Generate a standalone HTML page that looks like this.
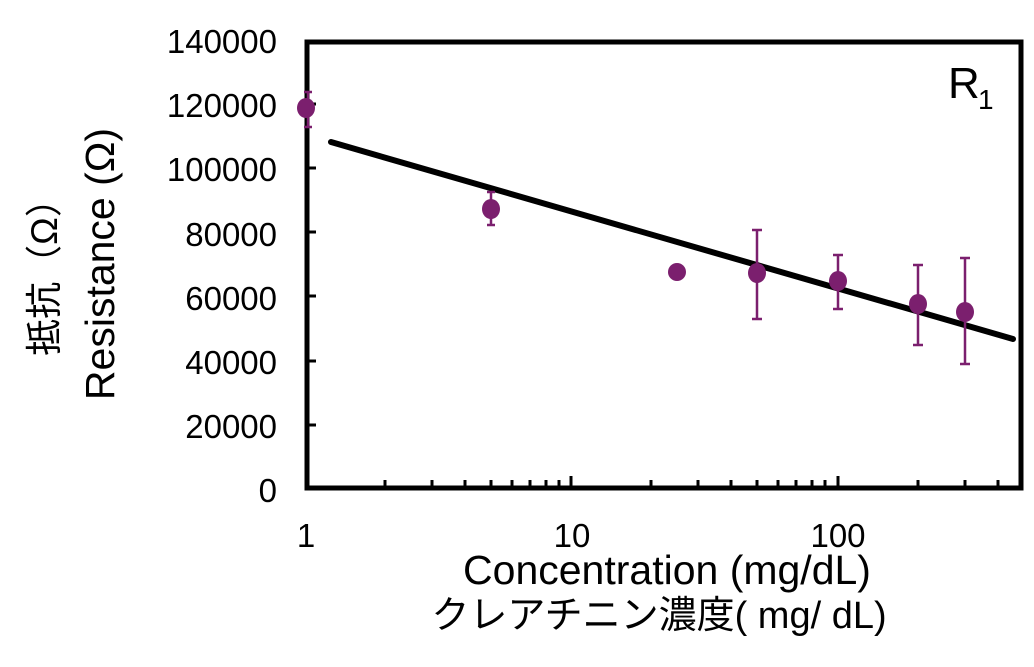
<!DOCTYPE html>
<html><head><meta charset="utf-8"><style>
body{margin:0;background:#fff}
svg text{font-family:"Liberation Sans","Noto Sans CJK JP",sans-serif;fill:#000}
</style></head><body>
<svg width="1034" height="662" viewBox="0 0 1034 662" xmlns="http://www.w3.org/2000/svg">
<rect width="1034" height="662" fill="#fff"/>
<g font-size="33" text-anchor="end">
<text x="277" y="53">140000</text>
<text x="277" y="117">120000</text>
<text x="277" y="181">100000</text>
<text x="277" y="246">80000</text>
<text x="277" y="310">60000</text>
<text x="277" y="374">40000</text>
<text x="277" y="438">20000</text>
<text x="277" y="502">0</text>
</g>
<g font-size="33" text-anchor="middle">
<text x="306" y="547">1</text>
<text x="572" y="547">10</text>
<text x="838" y="547">100</text>
</g>
<g stroke="#000" stroke-width="3">
<line x1="307" y1="104" x2="316" y2="104"/><line x1="307" y1="168" x2="316" y2="168"/>
<line x1="307" y1="232" x2="316" y2="232"/><line x1="307" y1="296" x2="316" y2="296"/>
<line x1="307" y1="361" x2="316" y2="361"/><line x1="307" y1="425" x2="316" y2="425"/>
<line x1="385" y1="487" x2="385" y2="480"/><line x1="432" y1="487" x2="432" y2="480"/>
<line x1="465" y1="487" x2="465" y2="480"/><line x1="491" y1="487" x2="491" y2="480"/>
<line x1="512" y1="487" x2="512" y2="480"/><line x1="530" y1="487" x2="530" y2="480"/>
<line x1="546" y1="487" x2="546" y2="480"/><line x1="559" y1="487" x2="559" y2="480"/>
<line x1="571" y1="487" x2="571" y2="476"/>
<line x1="651" y1="487" x2="651" y2="480"/><line x1="698" y1="487" x2="698" y2="480"/>
<line x1="731" y1="487" x2="731" y2="480"/><line x1="757" y1="487" x2="757" y2="480"/>
<line x1="778" y1="487" x2="778" y2="480"/><line x1="796" y1="487" x2="796" y2="480"/>
<line x1="812" y1="487" x2="812" y2="480"/><line x1="825" y1="487" x2="825" y2="480"/>
<line x1="838" y1="487" x2="838" y2="476"/>
<line x1="918" y1="487" x2="918" y2="480"/><line x1="965" y1="487" x2="965" y2="480"/>
<line x1="998" y1="487" x2="998" y2="480"/>
</g>
<rect x="307" y="42" width="714" height="446" fill="none" stroke="#000" stroke-width="5"/>
<line x1="331" y1="142" x2="1013" y2="339" stroke="#000" stroke-width="6" stroke-linecap="round"/>
<g stroke="#7b1f6e" stroke-width="2.5" fill="none">
<path d="M308 92V127M304 92h8M304 127h8"/>
<path d="M491 192V225M487 192h8M487 225h8"/>
<path d="M757 230V319M752 230h10M752 319h10"/>
<path d="M838 255V309M833 255h10M833 309h10"/>
<path d="M918 265V345M913 265h10M913 345h10"/>
<path d="M965 258V364M960 258h10M960 364h10"/>
</g>
<g fill="#7b1f6e">
<ellipse cx="306" cy="108" rx="9" ry="10"/>
<ellipse cx="491" cy="209" rx="9" ry="10"/>
<ellipse cx="677" cy="272" rx="9" ry="9"/>
<ellipse cx="757" cy="273" rx="9" ry="10"/>
<ellipse cx="838" cy="281" rx="9" ry="10"/>
<ellipse cx="918" cy="304" rx="9" ry="10"/>
<ellipse cx="965" cy="312" rx="9" ry="10"/>
</g>
<text x="948" y="98" font-size="44">R</text><text x="978" y="109" font-size="28">1</text>
<text x="667" y="584" font-size="41" text-anchor="middle">Concentration (mg/dL)</text>
<text x="659" y="628" font-size="38" text-anchor="middle">クレアチニン濃度( mg/ dL)</text>
<text transform="translate(114,264) rotate(-90)" font-size="41" text-anchor="middle">Resistance (Ω)</text>
<text transform="translate(57,268) rotate(-90)" font-size="37" text-anchor="middle">抵抗（Ω）</text>
</svg>
</body></html>
